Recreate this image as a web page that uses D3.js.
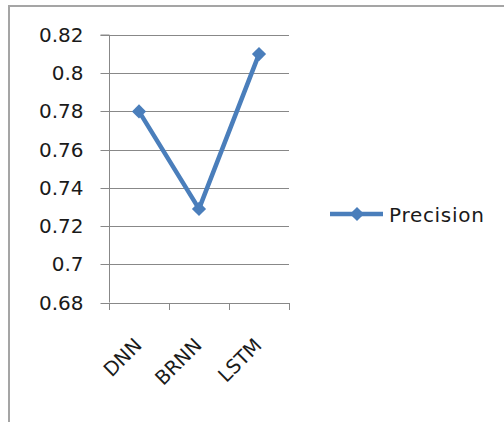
<!DOCTYPE html>
<html><head><meta charset="utf-8">
<script src="https://cdn.jsdelivr.net/npm/d3@7"></script>
<style>body{margin:0;background:#fff}svg{display:block}</style>
</head><body>
<script>
const categories = ["DNN", "BRNN", "LSTM"];
const precision = [0.78, 0.729, 0.81];
const yTicks = [0.68, 0.70, 0.72, 0.74, 0.76, 0.78, 0.80, 0.82];
const seriesName = "Precision";

const W = 504, H = 422;
const svg = d3.select("body").append("svg").attr("width", W).attr("height", H);
svg.append("rect").attr("width", W).attr("height", H).attr("fill", "#fff");
// chart frame
svg.append("rect").attr("x", 9).attr("y", 6).attr("width", 520).attr("height", 440)
  .attr("fill", "none").attr("stroke", "#a5a5a5").attr("stroke-width", 2);

const x0 = 109, x1 = 289, yTop = 35, yBot = 302.5;
const x = d3.scaleBand().domain(categories).range([x0, x1]);
const y = d3.scaleLinear().domain([0.68, 0.82]).range([yBot, yTop]);
const font = "DejaVu Sans, sans-serif";

// gridlines
svg.append("g").selectAll("line").data(yTicks.slice(1)).join("line")
  .attr("x1", x0).attr("x2", x1)
  .attr("y1", d => Math.round(y(d)) + 0.5).attr("y2", d => Math.round(y(d)) + 0.5)
  .attr("stroke", "#888").attr("stroke-width", 1);

// y axis
const yAxis = d3.axisLeft(y).tickValues(yTicks).tickSize(9).tickPadding(17)
  .tickFormat(d => String(+d.toFixed(2)));
const gy = svg.append("g").attr("transform", `translate(${x0 + 0.5},0)`).call(yAxis);
gy.select(".domain").attr("stroke", "#888").attr("d", `M-9,${yTop}H0V${yBot}`);
gy.selectAll(".tick line").attr("stroke", "#888");
gy.selectAll(".tick").attr("transform", d => `translate(0,${Math.round(y(d)) + 0.5})`);
gy.selectAll("text").attr("font-family", font).attr("font-size", 20).attr("fill", "#1a1a1a");

// x axis
const xEdges = categories.map(c => x(c)).concat([x1]);
const gx = svg.append("g");
gx.append("line").attr("x1", x0).attr("x2", x1 + 1).attr("y1", Math.round(yBot) + 0.5).attr("y2", Math.round(yBot) + 0.5).attr("stroke", "#888");
gx.selectAll("line.t").data(xEdges).join("line").attr("class", "t")
  .attr("x1", d => Math.round(d) + 0.5).attr("x2", d => Math.round(d) + 0.5)
  .attr("y1", Math.round(yBot)).attr("y2", Math.round(yBot) + 7).attr("stroke", "#888");
gx.selectAll("text").data(categories).join("text")
  .attr("transform", d => `translate(${x(d) + x.bandwidth() / 2 + 4},${yBot + 44}) rotate(-45)`)
  .attr("text-anchor", "end").attr("font-family", font).attr("font-size", 19.5).attr("fill", "#1a1a1a")
  .text(d => d);

// series
const blue = "#4a7ebb";
const pts = categories.map((c, i) => [x(c) + x.bandwidth() / 2, y(precision[i])]);
svg.append("path").attr("d", d3.line()(pts)).attr("fill", "none")
  .attr("stroke", blue).attr("stroke-width", 4.5).attr("stroke-linejoin", "round");
svg.selectAll("path.m").data(pts).join("path").attr("class", "m")
  .attr("transform", d => `translate(${d[0]},${d[1]}) rotate(45)`)
  .attr("d", d3.symbol().type(d3.symbolSquare).size(100)).attr("fill", blue);

// legend
const lg = svg.append("g").attr("transform", "translate(330,214)");
lg.append("line").attr("x1", 0).attr("x2", 53).attr("stroke", blue).attr("stroke-width", 4.5);
lg.append("path").attr("transform", "translate(27,0) rotate(45)")
  .attr("d", d3.symbol().type(d3.symbolSquare).size(100)).attr("fill", blue);
lg.append("text").attr("x", 59).attr("y", 8).attr("font-family", font).attr("font-size", 20)
  .attr("letter-spacing", 0.7).attr("fill", "#1a1a1a").text(seriesName);
</script>
</body></html>
